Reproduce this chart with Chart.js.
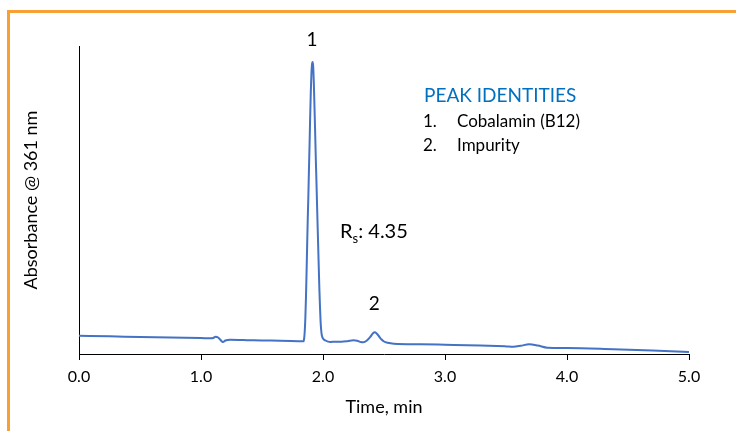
<!DOCTYPE html>
<html><head><meta charset="utf-8">
<script src="https://cdn.jsdelivr.net/npm/chart.js@4/dist/chart.umd.min.js"></script>
<style>html,body{margin:0;padding:0;background:#fff;}#wrap{position:relative;width:736px;height:431px;}</style>
</head><body><div id="wrap"><canvas id="c" width="736" height="431"></canvas></div>
<script>
// ---- data ----
const timeMin = [
  0, 0.25, 0.5, 0.75, 1.0, 1.08, 1.10, 1.12, 1.14, 1.16, 1.18, 1.20, 1.24, 1.4, 1.5, 1.65, 1.8, 1.84,
  1.845, 1.85, 1.855, 1.86, 1.865, 1.87, 1.875, 1.88, 1.885, 1.89, 1.895, 1.90, 1.905, 1.91, 1.915,
  1.92, 1.925, 1.93, 1.935, 1.94, 1.945, 1.95, 1.955, 1.96, 1.965, 1.97, 1.975, 1.98, 1.985, 1.99,
  2.00, 2.02, 2.06, 2.10, 2.15, 2.20, 2.25, 2.28, 2.31, 2.33, 2.36, 2.39, 2.41, 2.425, 2.44, 2.46,
  2.48, 2.50, 2.53, 2.58, 2.8, 3.0, 3.29, 3.5, 3.56, 3.62, 3.69, 3.76, 3.84, 4.0, 4.38, 4.7, 5.0
];
const absorbance = [
  18.3, 17.7, 17.0, 16.4, 15.9, 15.7, 16.0, 17.3, 16.5, 14.0, 12.0, 13.5, 14.3, 13.8, 13.5, 13.3, 12.8, 12.7,
  15, 22, 35, 55, 80, 108, 135, 158, 185, 210, 238, 262, 280, 290, 292,
  287, 270, 248, 225, 200, 178, 155, 132, 110, 88, 66, 48, 33, 24, 19,
  15.5, 13.5, 12.0, 12.3, 12.3, 12.8, 13.7, 13.2, 11.9, 11.7, 13.5, 17.5, 20.8, 21.7, 20.5, 17.5,
  14.5, 12.5, 11.2, 10.3, 9.8, 9.3, 8.5, 7.6, 7.3, 8.2, 9.7, 8.5, 6.3, 6.0, 4.7, 3.4, 2.0
];
const xTickValues = [0, 1, 2, 3, 4, 5];
const peakNumbers = ['1', '2'];
const peakTimes = [1.91, 2.42];
const peakLabelValues = [314, 50];
const resolutionText = '4.35';
const legendTitle = 'PEAK IDENTITIES';
const legendItems = ['Cobalamin (B12)', 'Impurity'];

const FONT = 'Lato, "Open Sans", sans-serif';

const annotations = {
  id: 'annotations',
  beforeDraw(chart) {
    const ctx = chart.ctx;
    ctx.save();
    ctx.strokeStyle = '#F7A033';
    ctx.lineWidth = 3;
    ctx.beginPath();
    ctx.moveTo(8.5, 431);
    ctx.lineTo(8.5, 11.5);
    ctx.lineTo(736, 11.5);
    ctx.stroke();
    ctx.restore();
  },
  afterDraw(chart) {
    const ctx = chart.ctx;
    const xs = chart.scales.x, ys = chart.scales.y;
    ctx.save();
    ctx.fillStyle = '#000';
    ctx.textAlign = 'center';
    ctx.textBaseline = 'middle';
    ctx.font = '19px ' + FONT;
    for (let i = 0; i < peakNumbers.length; i++) {
      ctx.fillText(peakNumbers[i], xs.getPixelForValue(peakTimes[i]), ys.getPixelForValue(peakLabelValues[i]));
    }
    // Rs label
    ctx.textAlign = 'left';
    ctx.textBaseline = 'alphabetic';
    ctx.font = '20px ' + FONT;
    let x0 = 340, yb = 238;
    ctx.fillText('R', x0, yb);
    let w = ctx.measureText('R').width;
    ctx.font = '13px ' + FONT;
    ctx.fillText('s', x0 + w, yb + 5);
    let w2 = ctx.measureText('s').width;
    ctx.font = '20px ' + FONT;
    ctx.fillText(': ' + resolutionText, x0 + w + w2, yb);
    // legend box
    ctx.fillStyle = '#0070C0';
    ctx.font = '19px ' + FONT;
    ctx.fillText(legendTitle, 424, 102);
    ctx.fillStyle = '#000';
    ctx.font = '17px ' + FONT;
    for (let i = 0; i < legendItems.length; i++) {
      const yy = 127 + i * 23.5;
      ctx.fillText((i + 1) + '.', 423, yy);
      ctx.fillText(legendItems[i], 457, yy);
    }
    ctx.restore();
  }
};

const points = timeMin.map((t, i) => ({ x: t, y: absorbance[i] }));

new Chart(document.getElementById('c'), {
  type: 'line',
  data: {
    datasets: [{
      data: points,
      borderColor: '#4472C4',
      borderWidth: 2,
      pointRadius: 0,
      fill: false,
      cubicInterpolationMode: 'monotone'
    }]
  },
  options: {
    responsive: false,
    animation: false,
    devicePixelRatio: 1,
    layout: { padding: { left: 0, top: 46, right: 47, bottom: 0 } },
    plugins: { legend: { display: false }, tooltip: { enabled: false } },
    scales: {
      x: {
        type: 'linear',
        min: 0, max: 5,
        afterBuildTicks(scale) { scale.ticks = xTickValues.map(v => ({ value: v })); },
        afterFit(scale) { scale.height = 77; },
        ticks: {
          color: '#000',
          font: { family: FONT, size: 16 },
          padding: 7,
          maxRotation: 0,
          callback: v => Number(v).toFixed(1)
        },
        grid: { drawOnChartArea: false, drawTicks: true, tickLength: 6, color: '#000', lineWidth: 1 },
        border: { display: true, color: '#000', width: 1 },
        title: { display: true, text: 'Time, min', color: '#000', font: { family: FONT, size: 18 }, padding: { top: 0, bottom: 13 } }
      },
      y: {
        type: 'linear',
        min: 0, max: 308,
        afterFit(scale) { scale.width = 79; },
        ticks: { display: false },
        grid: { display: false, drawTicks: false },
        border: { display: true, color: '#000', width: 1 },
        title: { display: true, text: 'Absorbance @ 361 nm', color: '#000', font: { family: FONT, size: 18 }, padding: { top: 20, bottom: 0 } }
      }
    }
  },
  plugins: [annotations]
});
</script>
</body></html>
